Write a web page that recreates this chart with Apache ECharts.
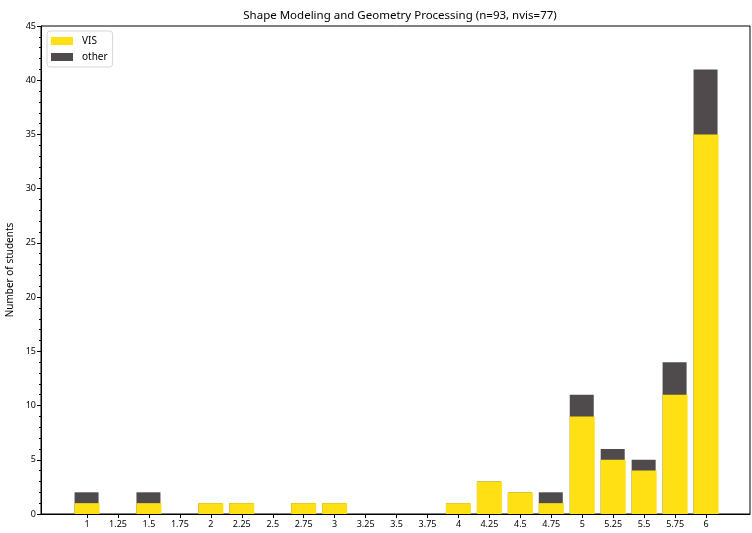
<!DOCTYPE html>
<html>
<head>
<meta charset="utf-8">
<script src="https://cdn.jsdelivr.net/npm/echarts@6/dist/echarts.min.js"></script>
<style>
  html, body { margin: 0; padding: 0; background: #fff; }
  #chart { width: 752px; height: 533px; }
</style>
</head>
<body>
<div id="chart"></div>
<script>
// grade bins
var grades = [1, 1.25, 1.5, 1.75, 2, 2.25, 2.5, 2.75, 3, 3.25, 3.5, 3.75, 4, 4.25, 4.5, 4.75, 5, 5.25, 5.5, 5.75, 6];
var visCounts = [1, 0, 1, 0, 1, 1, 0, 1, 1, 0, 0, 0, 1, 3, 2, 1, 9, 5, 4, 11, 35];
var otherCounts = [1, 0, 1, 0, 0, 0, 0, 0, 0, 0, 0, 0, 0, 0, 0, 1, 2, 1, 1, 3, 6];
var yTicks = [0, 5, 10, 15, 20, 25, 30, 35, 40, 45];

var font = '"Noto Sans", "DejaVu Sans", sans-serif';

// "other" sits on top of VIS: draw it from 0 up to the total, VIS drawn over it
var visData = grades.map(function (g, i) { return [g, visCounts[i]]; });
var totalData = grades.map(function (g, i) { return [g, visCounts[i] + otherCounts[i]]; });

var chart = echarts.init(document.getElementById('chart'));
var option = {
    animation: false,
    title: {
        text: 'Shape Modeling and Geometry Processing (n=93, nvis=77)',
        left: 395, top: 5, textAlign: 'center',
        textStyle: {fontFamily: font, fontSize: 11.5, fontWeight: 'normal', color: '#000'}
    },
    legend: {
        orient: 'vertical', left: 47, top: 31,
        itemWidth: 22, itemHeight: 8, itemGap: 6, icon: 'rect',
        padding: [5, 5, 5, 4],
        borderColor: '#d6d6d6', borderWidth: 1, borderRadius: 3,
        textStyle: {fontFamily: font, fontSize: 10, color: '#000', padding: [0, 0, 0, 4]},
        data: ['VIS', 'other']
    },
    grid: {
        left: 41, right: 2, top: 26, bottom: 19,
        outerBoundsMode: 'none',
        show: true, borderColor: '#000', borderWidth: 1
    },
    xAxis: {
        type: 'value', min: 0.628, max: 6.355,
        splitLine: {show: false},
        axisLine: {lineStyle: {color: '#000'}},
        axisTick: {customValues: grades, length: 4, lineStyle: {color: '#000'}},
        axisLabel: {customValues: grades, fontFamily: font, fontSize: 9, color: '#000', margin: 6}
    },
    yAxis: {
        type: 'value', min: yTicks[0], max: yTicks[yTicks.length - 1], interval: 5,
        name: 'Number of students', nameLocation: 'middle', nameGap: 23,
        nameTextStyle: {fontFamily: font, fontSize: 10, color: '#000'},
        splitLine: {show: false},
        axisLine: {show: true, lineStyle: {color: '#000'}},
        axisTick: {show: true, length: 4, lineStyle: {color: '#000'}},
        minorTick: {show: true, splitNumber: 5, length: 2, lineStyle: {color: '#000'}},
        axisLabel: {fontFamily: font, fontSize: 9, color: '#000', margin: 5}
    },
    series: [
        {
            name: 'other', type: 'bar', barWidth: 24, barGap: '-100%', z: 1,
            itemStyle: {color: '#4f4b4c'},
            data: totalData
        },
        {
            name: 'VIS', type: 'bar', barWidth: 25, barGap: '-100%', z: 2,
            itemStyle: {color: '#ffe014'},
            data: visData
        }
    ]
};
chart.setOption(option);
</script>
</body>
</html>
